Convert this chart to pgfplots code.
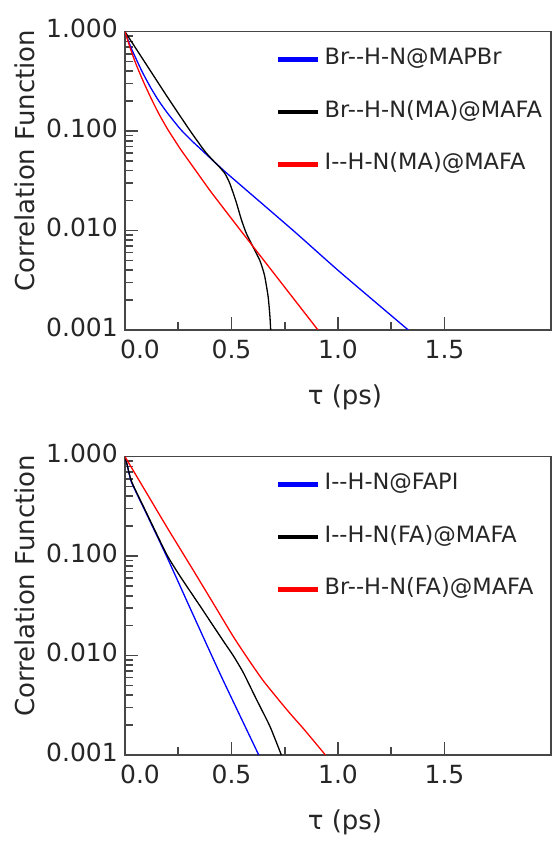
\documentclass[border=0pt]{standalone}
\usepackage{fontspec}
\setmainfont{DejaVu Sans}
\usepackage{pgfplots}
\pgfplotsset{compat=1.18}
\definecolor{axgray}{RGB}{70,70,70}
\definecolor{myblue}{RGB}{0,0,255}
\definecolor{myred}{RGB}{255,0,0}
\pgfplotsset{
  every axis x label/.style={at={(axis description cs:0.5,0)}, xshift=7pt, yshift=-67.5pt, anchor=center},
  every axis y label/.style={at={(axis description cs:0,0.5)}, xshift=-100.4pt, yshift=20pt, rotate=90, anchor=center},
  legend image code/.code={\draw[#1, line width=4.5pt] (0pt,0pt) -- (40pt,0pt);},
  every axis plot/.append style={line width=1.3pt, smooth, tension=0.35},
}
\pgfplotsset{
    scale only axis, width=426pt, height=298.3pt,
    xmin=0, xmax=2, ymin=0.001, ymax=1,
    xtick={0,0.5,1,1.5}, xticklabels={\hspace*{30pt}0.0,0.5,1.0,1.5},
    minor xtick={0.25,0.75,1.25},
    ytick={0.001,0.01,0.1,1}, yticklabels={0.001,0.010,0.100,1.000},
    minor ytick={0.002,0.003,0.004,0.005,0.006,0.007,0.008,0.009,0.02,0.03,0.04,0.05,0.06,0.07,0.08,0.09,0.2,0.3,0.4,0.5,0.6,0.7,0.8,0.9},
    xtick pos=bottom, ytick pos=left, tick align=inside,
    major tick length=13pt, minor tick length=8pt,
    axis line style={axgray, line width=1.6pt},
    tick style={axgray, line width=1.6pt},
    ticklabel style={font=\fontsize{25}{30}\selectfont, text=black!85},
    yticklabel style={anchor=east, inner sep=0pt, xshift=-7pt, yshift=3pt},
    xticklabel style={anchor=north, inner sep=0pt, yshift=-10pt},
    label style={font=\fontsize{26}{31}\selectfont, text=black!85},
    legend cell align=left,
    legend style={draw=none, fill=none, at={(axis description cs:0,1)}, anchor=north west,
      xshift=151pt, yshift=-17pt, inner sep=0pt, row sep=31.5pt, column sep=4pt,
      font=\fontsize{22.5}{27}\selectfont, text=black!85,
      nodes={inner sep=0pt, text height=16pt, text depth=5pt}},
}
\begin{document}
\begin{tikzpicture}
\path[use as bounding box] (0,0) rectangle (552pt,843pt);
\begin{semilogyaxis}[at={(125pt,513pt)}, anchor=south west, xlabel={τ (ps)}, ylabel={Correlation Function}]
\addplot[myblue] coordinates {
(0,1) (0.01,0.871) (0.03,0.676) (0.08,0.398) (0.12,0.275) (0.158,0.2023) (0.2,0.1514) (0.26,0.1047) (0.31,0.0813) (0.36,0.0646) (0.42,0.049) (0.487,0.0363) (0.79,0.0100) (1.008,0.00385) (1.33,0.001)
};
\addlegendentry{Br-{}-H-N@MAPBr}
\addplot[black] coordinates {
(0,1) (0.1,0.468) (0.2,0.219) (0.3,0.105) (0.36,0.0692) (0.383,0.0597) (0.42,0.049) (0.445,0.0432) (0.47,0.0372) (0.492,0.0298) (0.52,0.020) (0.547,0.01276) (0.57,0.00933) (0.6,0.00692) (0.633,0.00501) (0.655,0.00355) (0.672,0.00216) (0.68,0.00141) (0.684,0.001)
};
\addlegendentry{Br-{}-H-N(MA)@MAFA}
\addplot[myred] coordinates {
(0,1) (0.02,0.733) (0.04,0.5495) (0.06,0.4266) (0.09,0.302) (0.127,0.2042) (0.16,0.1479) (0.2,0.1047) (0.26,0.0661) (0.33,0.0407) (0.4,0.0251) (0.5,0.01318) (0.594,0.00724) (0.75,0.00269) (0.906,0.001)
};
\addlegendentry{I-{}-H-N(MA)@MAFA}
\end{semilogyaxis}
\begin{semilogyaxis}[at={(125pt,88pt)}, anchor=south west, xlabel={τ (ps)}, ylabel={Correlation Function}]
\addplot[myblue] coordinates {
(0,1) (0.01,0.832) (0.031,0.55) (0.1,0.269) (0.195,0.1) (0.305,0.0302) (0.45,0.00631) (0.628,0.001)
};
\addlegendentry{I-{}-H-N@FAPI}
\addplot[black] coordinates {
(0,1) (0.01,0.832) (0.031,0.562) (0.1,0.275) (0.195,0.1047) (0.258,0.0631) (0.352,0.0316) (0.414,0.01995) (0.47,0.01318) (0.508,0.0100) (0.555,0.00676) (0.617,0.00363) (0.68,0.00195) (0.734,0.001)
};
\addlegendentry{I-{}-H-N(FA)@MAFA}
\addplot[myred] coordinates {
(0,1) (0.1,0.4365) (0.2,0.1905) (0.32,0.0724) (0.43,0.0295) (0.5,0.0166) (0.539,0.0123) (0.586,0.00871) (0.648,0.00562) (0.727,0.00347) (0.774,0.00263) (0.836,0.00186) (0.883,0.00141) (0.941,0.001)
};
\addlegendentry{Br-{}-H-N(FA)@MAFA}
\end{semilogyaxis}
\end{tikzpicture}
\end{document}
